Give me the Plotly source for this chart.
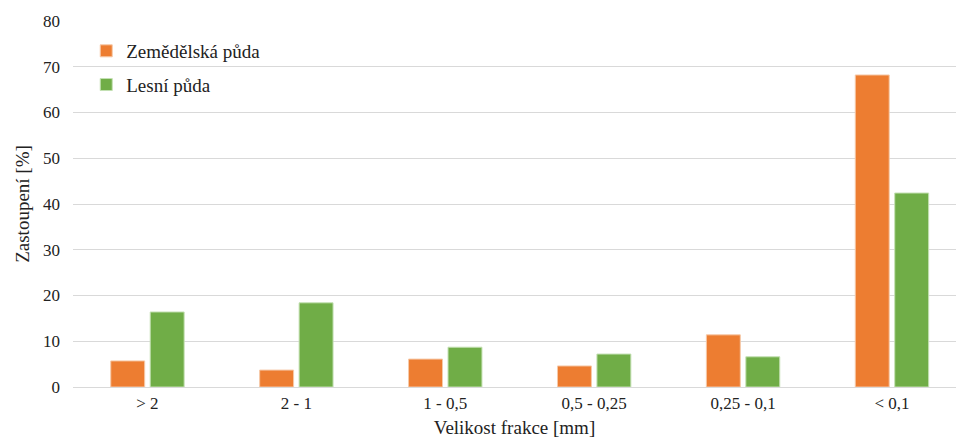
import plotly.graph_objects as go

categories = ["> 2", "2 - 1", "1 - 0,5", "0,5 - 0,25", "0,25 - 0,1", "< 0,1"]
zemedelska = [5.7, 3.7, 6.1, 4.6, 11.4, 68.2]
lesni = [16.4, 18.4, 8.7, 7.2, 6.6, 42.4]

font = "'Times New Roman', 'Liberation Serif', 'DejaVu Serif', serif"

fig = go.Figure()
fig.add_trace(go.Bar(
    x=categories, y=zemedelska, name="Zemědělská půda",
    marker=dict(color="#ED7D31", line=dict(color="#f6c9a8", width=1)),
    legendgroup="a",
))
fig.add_trace(go.Bar(
    x=categories, y=lesni, name="Lesní půda",
    marker=dict(color="#70AD47", line=dict(color="#c4e0b3", width=1)),
    legendgroup="b",
))

fig.update_layout(
    width=956, height=443,
    margin=dict(l=73, r=0, t=21, b=56, autoexpand=False),
    plot_bgcolor="white", paper_bgcolor="white",
    barmode="group", bargap=0.47, bargroupgap=0.14,
    font=dict(family=font, size=17, color="#222"),
    showlegend=True,
    legend=dict(
        x=0.015, y=0.97, xanchor="left", yanchor="top",
        font=dict(family=font, size=19, color="#222"),
        traceorder="grouped", tracegroupgap=6,
        itemwidth=30, bgcolor="rgba(0,0,0,0)",
    ),
    xaxis=dict(
        type="category", range=[-0.5, 5.43], automargin=True,
        showgrid=False, showline=False, ticks="", ticklabelstandoff=4,
        title=dict(text="Velikost frakce [mm]", font=dict(family=font, size=19), standoff=8),
        tickfont=dict(family=font, size=17),
    ),
    yaxis=dict(
        range=[0, 80], dtick=10, showgrid=True, gridcolor="#d9d9d9", gridwidth=1,
        zeroline=True, zerolinecolor="#d9d9d9", zerolinewidth=1, automargin=True,
        ticklabelstandoff=12,
        title=dict(text="Zastoupení [%]", font=dict(family=font, size=19), standoff=8),
        tickfont=dict(family=font, size=17), ticklen=0, ticks="",
    ),
)

fig.write_html("out.html", config={"displayModeBar": False},
               post_script="document.body.style.margin='0';")
